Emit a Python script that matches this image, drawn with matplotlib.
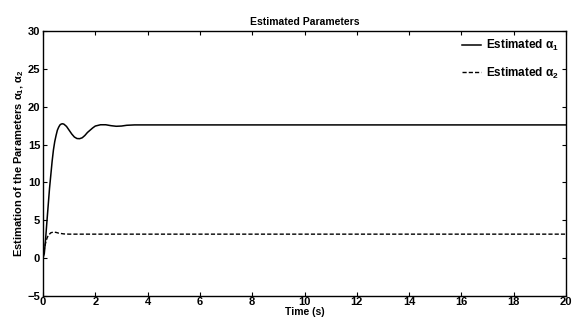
import matplotlib.pyplot as plt

plt.rcParams['font.family'] = ['Liberation Sans', 'DejaVu Sans']
plt.rcParams['font.weight'] = 'bold'
plt.rcParams['mathtext.fontset'] = 'custom'
plt.rcParams['mathtext.rm'] = 'Liberation Sans:bold'
plt.rcParams['mathtext.bf'] = 'Liberation Sans:bold'
plt.rcParams['mathtext.it'] = 'Liberation Sans:bold'

# estimated alpha_1 (solid)
t1 = [0, 0.05, 0.1, 0.15, 0.2, 0.25, 0.3, 0.35, 0.4, 0.45, 0.5, 0.55, 0.6, 0.65,
      0.7, 0.75, 0.8, 0.9, 1.0, 1.1, 1.2, 1.3, 1.4, 1.5, 1.6, 1.7, 1.8, 1.9, 2.0,
      2.2, 2.4, 2.6, 2.8, 3.0, 3.2, 3.5, 4.0, 20]
a1 = [0, 0.6, 2.5, 4.8, 7.0, 9.2, 11.0, 12.8, 14.3, 15.4, 16.2, 16.9, 17.3, 17.6,
      17.72, 17.75, 17.7, 17.4, 16.9, 16.4, 16.0, 15.8, 15.78, 15.9, 16.2, 16.6, 16.9, 17.2, 17.45,
      17.62, 17.62, 17.5, 17.42, 17.45, 17.55, 17.6, 17.6, 17.6]

# estimated alpha_2 (dashed)
t2 = [0, 0.05, 0.1, 0.15, 0.2, 0.3, 0.4, 0.5, 0.6, 0.8, 1.0, 20]
a2 = [0, 1.2, 2.0, 2.6, 3.0, 3.35, 3.45, 3.4, 3.3, 3.2, 3.17, 3.17]

fig = plt.figure(figsize=(5.73, 3.2), dpi=100)
ax = fig.add_axes([0.075, 0.075, 0.913, 0.828])

ax.plot(t1, a1, 'k-', lw=1.1, label='Estimated α$_\\mathbf{1}$')
ax.plot(t2, a2, 'k--', lw=1.0, dashes=(3, 1.5), label='Estimated α$_\\mathbf{2}$')

ax.set_xlim(0, 20)
ax.set_ylim(-5, 30)
ax.set_xticks(range(0, 21, 2))
ax.set_yticks(range(-5, 31, 5))
ax.tick_params(direction='in', top=True, right=True, length=3, width=0.8,
               labelsize=8)
ax.tick_params(axis='x', pad=1)
ax.tick_params(axis='y', pad=2)
for lab in ax.get_xticklabels() + ax.get_yticklabels():
    lab.set_fontweight('bold')
for s in ax.spines.values():
    s.set_linewidth(1.0)

ax.set_title('Estimated Parameters', fontsize=7.5, fontweight='bold', pad=4)
ax.set_xlabel('Time (s)', fontsize=7.5, fontweight='bold', labelpad=0)
ax.set_ylabel('Estimation of the Parameters α$_\\mathbf{1}$, α$_\\mathbf{2}$',
              fontsize=8, fontweight='bold', labelpad=1)

ax.legend(loc='upper right', frameon=False, fontsize=8.5, handlelength=1.6,
          handletextpad=0.4, labelspacing=1.05, borderaxespad=0.2)

fig.savefig('out.png', dpi=100)
